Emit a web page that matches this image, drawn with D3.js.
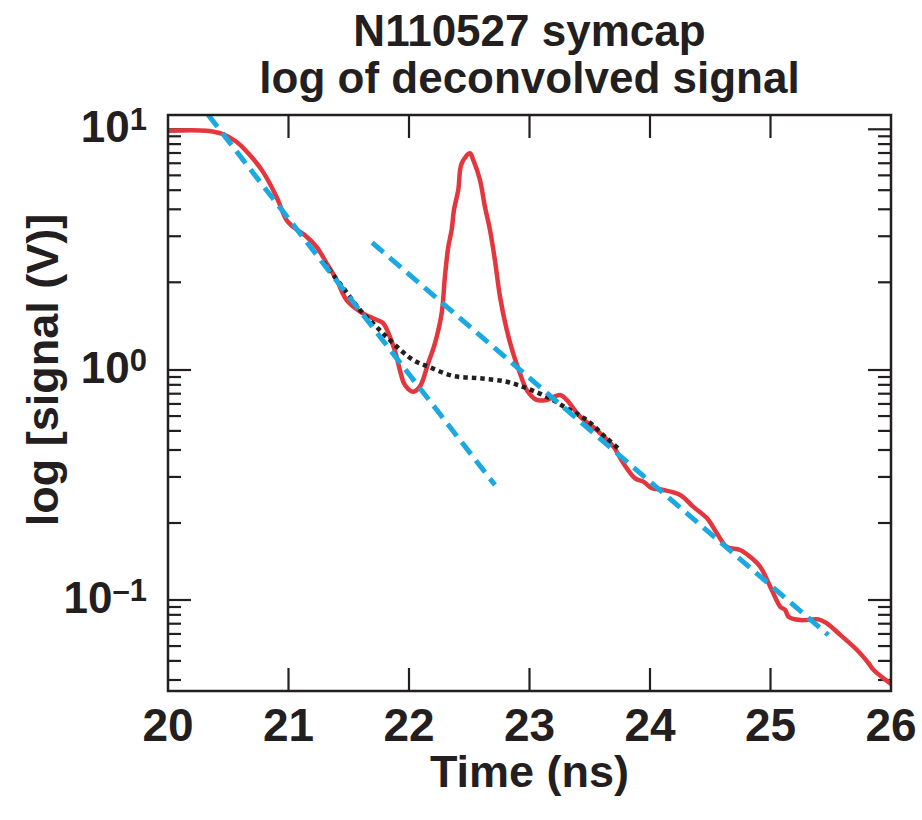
<!DOCTYPE html>
<html>
<head>
<meta charset="utf-8">
<script src="https://cdn.jsdelivr.net/npm/d3@7"></script>
<style>
  body { margin: 0; background: #fff; }
  svg text { font-family: "Liberation Sans", Arial, Helvetica, sans-serif; font-weight: bold; fill: #231f20; }
</style>
</head>
<body>
<div id="entry"></div>
<script>
// values
var redTime = [20.00, 20.319, 20.454, 20.568, 20.679, 20.787, 20.900, 20.983, 21.036, 21.150,
  21.233, 21.316, 21.399, 21.482, 21.592, 21.700, 21.783, 21.841, 21.897, 21.924,
  21.966, 22.035, 22.090, 22.159, 22.215, 22.271, 22.298, 22.326, 22.354, 22.373,
  22.409, 22.437, 22.506, 22.533, 22.589, 22.630, 22.672, 22.713, 22.755, 22.811,
  22.865, 22.921, 22.977, 23.060, 23.143, 23.253, 23.309, 23.420, 23.558, 23.696,
  23.779, 23.876, 23.945, 24.015, 24.111, 24.250, 24.360, 24.472, 24.555, 24.638,
  24.748, 24.831, 24.914, 24.998, 25.081, 25.122, 25.150, 25.247, 25.399, 25.468,
  25.579, 25.718, 25.814, 25.856, 25.994];
var redSignal = [9.87, 9.87, 9.56, 8.88, 7.82, 6.67, 5.25, 4.20, 3.94, 3.58,
  3.25, 2.78, 2.37, 1.95, 1.75, 1.64, 1.57, 1.375, 1.136, 1.0,
  0.861, 0.805, 0.846, 1.066, 1.29, 1.72, 2.44, 3.25, 3.82, 4.62,
  5.60, 7.22, 7.95, 7.46, 6.16, 4.77, 3.82, 2.86, 2.02, 1.47,
  1.17, 0.968, 0.819, 0.741, 0.741, 0.779, 0.741, 0.627, 0.548, 0.464,
  0.393, 0.338, 0.327, 0.306, 0.301, 0.286, 0.254, 0.227, 0.195, 0.170,
  0.165, 0.154, 0.1395, 0.1143, 0.0935, 0.0905, 0.0846, 0.0818, 0.0824, 0.0792,
  0.0705, 0.0606, 0.0531, 0.0496, 0.0434];

var dotTime = [21.287, 21.426, 21.592, 21.731, 21.869, 22.035, 22.174, 22.367, 22.589, 22.811,
  22.977, 23.143, 23.309, 23.475, 23.641, 23.752];
var dotSignal = [2.81, 2.29, 1.78, 1.51, 1.29, 1.10, 1.026, 0.942, 0.920, 0.889,
  0.833, 0.765, 0.682, 0.606, 0.505, 0.449];

// two straight fits
var fit1Time = [20.334, 22.713];
var fit1Signal = [11.47, 0.316];
var fit2Time = [21.694, 25.479];
var fit2Signal = [3.38, 0.0705];

var xTicks = [20, 21, 22, 23, 24, 25, 26];
var yMajor = [10, 1, 0.1];
var yExp = ['1', '0', '\u20131'];
var minorSteps = [0.9, 0.8, 0.7, 0.6, 0.5, 0.4, 0.3, 0.2, 0.1];

var margin = {top: 115, right: 31, bottom: 129, left: 168},
  width = 922 - margin.left - margin.right,
  height = 820 - margin.top - margin.bottom;

var x = d3.scaleLinear().domain([20, 26]).range([0, width]);

// the decades of the original axis are not evenly spaced, so a piecewise log scale
var y = d3.scaleLog()
  .domain([0.1, 1, 10])
  .range([485, 255, 14.3]);

// the minor ticks of the original run on a shorter decade
var minor = d3.scaleLog().domain([1, 0.1]).range([0, 153]);

var svg = d3.select("#entry").append("svg")
  .attr("width", 922)
  .attr("height", 820)
  .append("g")
  .attr("transform", "translate(" + margin.left + "," + margin.top + ")");

svg.append("defs").append("clipPath").attr("id", "plot")
  .append("rect").attr("width", width).attr("height", height);

var ink = '#231f20';

// ticks on all four sides
function xTickLines(y0, dir) {
  svg.append('g').selectAll('line').data(xTicks.slice(1, -1)).enter().append('line')
    .attr('x1', d => x(d)).attr('x2', d => x(d))
    .attr('y1', y0).attr('y2', y0 + dir * 23)
    .attr('stroke', ink).attr('stroke-width', 2.2);
}
xTickLines(0, 1);
xTickLines(height, -1);

var minorTicks = [];
yMajor.forEach(function(m) {
  minorSteps.forEach(function(s) {
    var pos = y(m) + minor(s);
    if (pos < height - 1) minorTicks.push(pos);
  });
});

function yTickLines(x0, dir) {
  var g = svg.append('g');
  g.selectAll('line.major').data(yMajor).enter().append('line')
    .attr('class', 'major')
    .attr('x1', x0).attr('x2', x0 + dir * 23)
    .attr('y1', d => y(d)).attr('y2', d => y(d))
    .attr('stroke', ink).attr('stroke-width', 2.2);
  g.selectAll('line.minor').data(minorTicks).enter().append('line')
    .attr('class', 'minor')
    .attr('x1', x0).attr('x2', x0 + dir * 13)
    .attr('y1', d => d).attr('y2', d => d)
    .attr('stroke', ink).attr('stroke-width', 2.2);
}
yTickLines(0, 1);
yTickLines(width, -1);

// curves
var plot = svg.append('g').attr('clip-path', 'url(#plot)');

function series(t, v) {
  return t.map(function(d, i) { return [d, v[i]]; });
}
var line = d3.line().x(d => x(d[0])).y(d => y(d[1]));
var smooth = d3.line().x(d => x(d[0])).y(d => y(d[1])).curve(d3.curveCatmullRom);

plot.append('path')
  .attr('d', smooth(series(redTime, redSignal)))
  .attr('fill', 'none').attr('stroke', '#e3363d').attr('stroke-width', 4.5)
  .attr('stroke-linejoin', 'round').attr('stroke-linecap', 'round');

plot.append('path')
  .attr('d', smooth(series(dotTime, dotSignal)))
  .attr('fill', 'none').attr('stroke', ink).attr('stroke-width', 4.5)
  .attr('stroke-dasharray', '4.5 4');

[series(fit1Time, fit1Signal), series(fit2Time, fit2Signal)].forEach(function(s) {
  plot.append('path')
    .attr('d', line(s))
    .attr('fill', 'none').attr('stroke', '#1aa9e1').attr('stroke-width', 5)
    .attr('stroke-dasharray', '15 8');
});

// frame
svg.append('rect')
  .attr('width', width).attr('height', height)
  .attr('fill', 'none').attr('stroke', ink).attr('stroke-width', 2.5);

// tick labels
svg.append('g').selectAll('text').data(xTicks).enter().append('text')
  .attr('x', d => x(d)).attr('y', height + 50)
  .attr('text-anchor', 'middle')
  .style('font-size', '46px')
  .text(d => d);

var yl = svg.append('g').selectAll('text').data(yMajor).enter().append('text')
  .attr('x', -21).attr('y', d => y(d) + 13)
  .attr('text-anchor', 'end')
  .style('font-size', '44px');
yl.append('tspan').text('10');
yl.append('tspan').attr('dy', -12).style('font-size', '31px').text((d, i) => yExp[i]);

// titles
svg.append('text')
  .attr('x', width / 2).attr('y', 46 - margin.top)
  .attr('text-anchor', 'middle').style('font-size', '44px')
  .text('N110527 symcap');
svg.append('text')
  .attr('x', width / 2).attr('y', 93 - margin.top)
  .attr('text-anchor', 'middle').style('font-size', '44px')
  .text('log of deconvolved signal');

svg.append('text')
  .attr('x', width / 2).attr('y', height + 96)
  .attr('text-anchor', 'middle').style('font-size', '45px')
  .text('Time (ns)');

svg.append('text')
  .attr('transform', 'translate(' + (58 - margin.left) + ',' + (370 - margin.top) + ') rotate(-90)')
  .attr('text-anchor', 'middle').style('font-size', '45px')
  .text('log [signal (V)]');
</script>
</body>
</html>
